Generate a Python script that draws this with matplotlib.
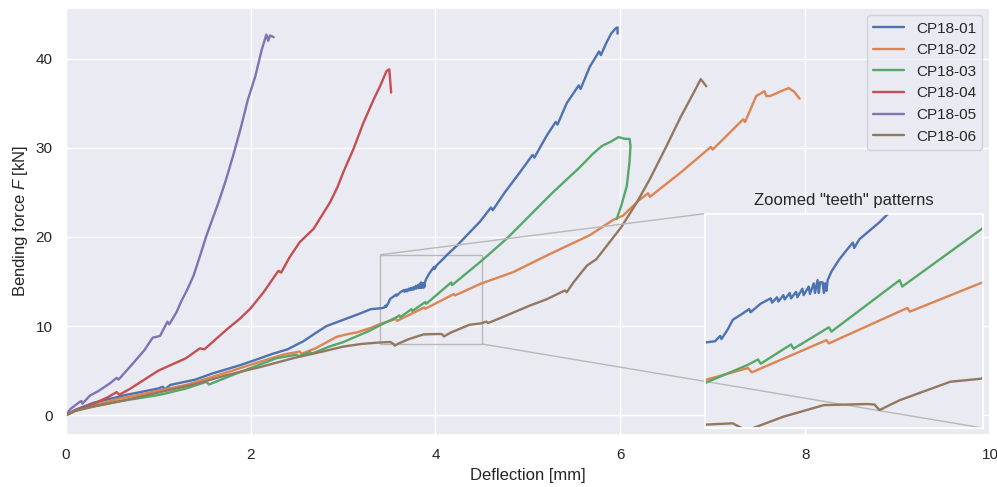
import numpy as np
import matplotlib
matplotlib.use('Agg')
import matplotlib.pyplot as plt
import seaborn as sns
from mpl_toolkits.axes_grid1.inset_locator import mark_inset

# deflection [mm] / force [kN]
labels = ['CP18-01', 'CP18-02', 'CP18-03', 'CP18-04', 'CP18-05', 'CP18-06']

x01 = [0, 0.1, 0.3, 0.66, 1.0, 1.05, 1.07, 1.13, 1.4, 1.59, 1.88, 2.05, 2.24, 2.4, 2.57, 2.7, 2.82,
       3.0, 3.18, 3.3, 3.407, 3.44, 3.46, 3.465, 3.49, 3.51, 3.55, 3.575, 3.58, 3.62, 3.644,
       3.66, 3.665, 3.685, 3.69, 3.71, 3.715, 3.735, 3.74, 3.76, 3.765, 3.785, 3.79, 3.81, 3.815,
       3.83, 3.835, 3.845, 3.85, 3.855, 3.865, 3.87, 3.875, 3.88, 3.885,
       3.90, 3.93, 3.96, 3.985, 3.99, 4.01, 4.05, 4.09, 4.12, 4.23, 4.35, 4.48, 4.6, 4.62,
       4.75, 4.91, 5.05, 5.07, 5.2, 5.3, 5.32, 5.42, 5.55, 5.57, 5.67, 5.77, 5.79, 5.85, 5.9,
       5.95, 5.97, 5.97]
y01 = [0, 0.6, 1.4, 2.3, 3.0, 3.2, 2.9, 3.4, 4.0, 4.7, 5.6, 6.2, 6.9, 7.4, 8.3, 9.2, 10.0,
       10.7, 11.4, 11.9, 12.0, 12.05, 12.3, 12.15, 12.6, 13.05, 13.35, 13.55, 13.4, 13.8, 13.95,
       14.05, 13.85, 14.1, 13.9, 14.2, 14.0, 14.3, 14.05, 14.35, 14.1, 14.5, 14.2, 14.6, 14.25,
       14.75, 14.3, 14.9, 14.3, 14.8, 14.8, 14.3, 14.75, 14.4, 14.9,
       15.3, 15.85, 16.3, 16.65, 16.4, 16.8, 17.2, 17.6, 17.95, 19.0, 20.3,
       21.7, 23.3, 23.0, 25.0, 27.2, 29.2, 28.9, 31.3, 32.9, 32.6, 35.0, 37.0, 36.6, 39.1, 40.8,
       40.4, 41.8, 42.8, 43.4, 43.5, 42.8]

x02 = [0, 0.1, 0.3, 0.6, 1.02, 1.3, 1.52, 1.8, 2.1, 2.35, 2.53, 2.55, 2.7, 2.93, 3.05, 3.15, 3.3,
       3.4, 3.57, 3.585, 3.88, 3.89, 4.2, 4.21, 4.49, 4.84, 5.24, 5.67, 5.92, 6.03, 6.2, 6.3,
       6.32, 6.65, 6.98, 7.0, 7.33, 7.35, 7.47, 7.56, 7.58, 7.62, 7.73, 7.82, 7.88, 7.94]
y02 = [0, 0.5, 1.15, 1.9, 2.8, 3.4, 4.1, 5.0, 6.0, 6.8, 7.15, 6.9, 7.5, 8.8, 9.1, 9.3, 9.8,
       10.24, 10.8, 10.6, 12.1, 11.95, 13.6, 13.43, 14.76, 16.05, 18.1, 20.2, 21.9, 22.4, 24.1, 24.9,
       24.5, 27.2, 30.1, 29.8, 33.2, 32.9, 35.8, 36.35, 35.8, 35.8, 36.3, 36.7, 36.3, 35.5]

x03 = [0, 0.1, 0.3, 0.6, 1.02, 1.3, 1.52, 1.55, 1.8, 2.0, 2.28, 2.5, 2.52, 2.64, 2.66, 2.85,
       3.0, 3.29, 3.4, 3.57, 3.61, 3.62, 3.74, 3.75, 3.89, 3.9, 4.17, 4.18, 4.49, 4.77, 5.02,
       5.27, 5.56, 5.7, 5.8, 5.9, 5.98, 6.05, 6.10, 6.11, 6.1, 6.07, 6.01, 5.96]
y03 = [0, 0.5, 0.97, 1.6, 2.3, 3.0, 3.75, 3.45, 4.5, 5.3, 6.4, 6.8, 6.6, 7.1, 6.9, 7.7,
       8.2, 9.5, 10.1, 10.95, 11.2, 11.0, 11.9, 11.7, 12.7, 12.5, 14.9, 14.6, 17.25, 19.8, 22.4,
       25.0, 27.8, 29.3, 30.2, 30.7, 31.2, 31.0, 31.0, 30.2, 28.5, 25.7, 23.5, 22.0]

x04 = [0, 0.1, 0.3, 0.45, 0.55, 0.58, 0.7, 1.0, 1.3, 1.45, 1.5, 1.63, 1.75, 1.88, 2.0, 2.14,
       2.24, 2.3, 2.33, 2.42, 2.53, 2.68, 2.86, 2.94, 3.0, 3.11, 3.22, 3.33, 3.4, 3.47, 3.50, 3.52]
y04 = [0, 0.5, 1.3, 2.0, 2.6, 2.3, 3.0, 5.0, 6.4, 7.5, 7.4, 8.6, 9.7, 10.8, 12.0, 13.8,
       15.3, 16.2, 16.0, 17.7, 19.4, 20.9, 23.9, 25.6, 27.2, 29.8, 32.8, 35.4, 36.9, 38.6, 38.8, 36.2]

x05 = [0, 0.05, 0.15, 0.17, 0.18, 0.26, 0.35, 0.48, 0.55, 0.57, 0.7, 0.85, 0.94, 1.02, 1.09,
       1.1, 1.12, 1.2, 1.25, 1.31, 1.38, 1.45, 1.52, 1.65, 1.73, 1.81, 1.89, 1.97, 2.05, 2.12,
       2.17, 2.19, 2.21, 2.25]
y05 = [0, 0.7, 1.5, 1.6, 1.3, 2.2, 2.7, 3.6, 4.2, 4.0, 5.5, 7.3, 8.7, 8.9, 10.3,
       10.5, 10.2, 11.6, 12.8, 14.0, 15.6, 17.8, 20.1, 23.8, 26.3, 29.1, 32.1, 35.4, 38.0, 41.0,
       42.7, 42.0, 42.6, 42.4]

x06 = [0, 0.1, 0.3, 0.6, 1.02, 1.4, 1.74, 2.1, 2.46, 2.8, 3.0, 3.2, 3.38, 3.51, 3.545, 3.56,
       3.59, 3.71, 3.87, 4.04, 4.07, 4.09, 4.17, 4.37, 4.49, 4.55, 4.57, 4.7, 5.02, 5.2, 5.4,
       5.42, 5.5, 5.64, 5.74, 5.92, 6.01, 6.18, 6.32, 6.5, 6.65, 6.81, 6.87, 6.93]
y06 = [0, 0.5, 1.0, 1.6, 2.6, 3.5, 4.5, 5.4, 6.4, 7.2, 7.7, 8.0, 8.15, 8.22, 8.0, 7.8,
       8.0, 8.53, 9.07, 9.12, 9.1, 8.84, 9.3, 10.16, 10.3, 10.5, 10.35, 10.9, 12.3, 13.0, 14.0,
       13.8, 15.0, 16.8, 17.5, 19.9, 21.1, 23.9, 26.5, 30.2, 33.4, 36.5, 37.7, 36.9]

curves = [(x01, y01), (x02, y02), (x03, y03), (x04, y04), (x05, y05), (x06, y06)]

sns.set_theme()
plt.rcParams['font.family'] = ['Liberation Sans', 'DejaVu Sans']
plt.rcParams['mathtext.fontset'] = 'custom'
plt.rcParams['mathtext.it'] = 'Liberation Sans:italic'
plt.rcParams['mathtext.rm'] = 'Liberation Sans'

fig, ax = plt.subplots(figsize=(9.97, 4.87), dpi=100)
fig.subplots_adjust(left=0.066, right=0.993, top=0.984, bottom=0.107)

for (xs, ys), lab in zip(curves, labels):
    ax.plot(xs, ys, label=lab, lw=1.7)

ax.set_xlim(0, 10)
ax.set_ylim(-2.2, 45.7)
ax.set_xlabel('Deflection [mm]')
ax.set_ylabel('Bending force $F$ [kN]')
ax.legend(loc='upper right')

# inset with the teeth
axins = ax.inset_axes([0.6916, 0.016, 0.301, 0.502])
for (xs, ys), lab in zip(curves, labels):
    axins.plot(xs, ys, lw=1.7)
axins.set_xlim(3.4, 4.5)
axins.set_ylim(8, 18)
axins.set_xticks([])
axins.set_yticks([])
axins.set_title('Zoomed "teeth" patterns', fontsize=12)
mark_inset(ax, axins, loc1=2, loc2=4, fc='none', ec='0.72', lw=1)

fig.savefig('out.png', dpi=100)
